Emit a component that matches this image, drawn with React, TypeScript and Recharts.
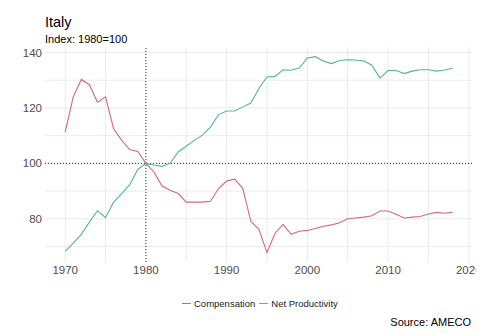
import { CartesianGrid, Line, LineChart, ReferenceLine, XAxis, YAxis } from "recharts";

document.body.style.margin = "0";

const years = [
  1970, 1971, 1972, 1973, 1974, 1975, 1976, 1977, 1978, 1979, 1980, 1981, 1982, 1983, 1984, 1985, 1986,
  1987, 1988, 1989, 1990, 1991, 1992, 1993, 1994, 1995, 1996, 1997, 1998, 1999, 2000, 2001, 2002, 2003,
  2004, 2005, 2006, 2007, 2008, 2009, 2010, 2011, 2012, 2013, 2014, 2015, 2016, 2017, 2018,
];

const compensation = [
  111.3, 124, 130.3, 128.4, 122.1, 124, 112.5, 108.3, 105, 104.3, 100, 96.9, 91.8, 90.3, 89.1, 86, 86,
  86, 86.3, 90.9, 93.6, 94.3, 91, 79.1, 76.2, 67.8, 74.8, 77.9, 74.4, 75.5, 75.8, 76.5, 77.3, 77.8,
  78.6, 80, 80.3, 80.6, 81.1, 82.8, 82.8, 81.6, 80.3, 80.6, 80.8, 81.7, 82.3, 82, 82.3,
];

const productivity = [
  68.2, 71.2, 74.4, 78.8, 82.9, 80.4, 86, 89.1, 92.3, 97.8, 100, 99.4, 98.9, 100, 104.1, 106.2, 108.3,
  110.2, 113.1, 117.6, 118.9, 118.9, 120.3, 121.8, 127, 131.2, 131.4, 133.8, 133.6, 134.4, 138, 138.5,
  136.9, 136, 137.1, 137.4, 137.3, 136.9, 135.4, 130.8, 133.5, 133.5, 132.4, 133.3, 133.8, 133.8, 133.3,
  133.7, 134.3,
];

const xTicks = [1970, 1980, 1990, 2000, 2010, 2020];
const yTicks = [80, 100, 120, 140];
const xGrid = [1970, 1975, 1980, 1985, 1990, 1995, 2000, 2005, 2010, 2015, 2020];
const yGrid = [70, 80, 90, 100, 110, 120, 130, 140];

const data = years.map((year, i) => ({
  year,
  compensation: compensation[i],
  productivity: productivity[i],
}));

const RED = "#d3697b";
const TEAL = "#52b59d";
const font = "'Liberation Sans', Arial, sans-serif";

export default function App() {
  return (
    <div style={{ position: "relative", width: 500, height: 334, background: "#fff", fontFamily: font }}>
      <div style={{ position: "absolute", left: 45, top: 14, fontSize: 14.5, color: "#000" }}>Italy</div>
      <div style={{ position: "absolute", left: 45, top: 33, fontSize: 11, color: "#000" }}>Index: 1980=100</div>
      <LineChart width={500} height={334} data={data} margin={{ top: 47, right: 28, left: 0, bottom: 52 }}>
        <CartesianGrid stroke="#ebebeb" strokeWidth={1} horizontalValues={yGrid} verticalValues={xGrid} />
        <XAxis
          dataKey="year"
          type="number"
          domain={[1967.5, 2020.4]}
          ticks={xTicks}
          axisLine={false}
          tickLine={false}
          tickSize={0}
          tickMargin={4}
          height={20}
          tick={{ fill: "#4d4d4d", fontSize: 11.5, fontFamily: font }}
        />
        <YAxis
          type="number"
          domain={[64.4, 142]}
          ticks={yTicks}
          axisLine={false}
          tickLine={false}
          tickSize={0}
          tickMargin={3}
          width={45}
          tick={{ fill: "#4d4d4d", fontSize: 11.5, fontFamily: font }}
        />
        <ReferenceLine y={100} stroke="#333" strokeDasharray="1 2" />
        <ReferenceLine x={1980} stroke="#333" strokeDasharray="1 2" />
        <Line dataKey="compensation" stroke={RED} strokeWidth={1.1} dot={false} isAnimationActive={false} />
        <Line dataKey="productivity" stroke={TEAL} strokeWidth={1.1} dot={false} isAnimationActive={false} />
      </LineChart>
      <div style={{ position: "absolute", left: 475.5, top: 263, width: 25, height: 16, background: "#fff" }} />
      <div
        style={{
          position: "absolute",
          left: 182,
          top: 298,
          display: "flex",
          alignItems: "center",
          fontSize: 9.5,
          color: "#1a1a1a",
          whiteSpace: "nowrap",
        }}
      >
        <span style={{ display: "inline-block", width: 9, height: 1.5, background: RED, marginRight: 3 }} />
        <span style={{ marginRight: 4 }}>Compensation</span>
        <span style={{ display: "inline-block", width: 9, height: 1.5, background: TEAL, marginRight: 3 }} />
        <span>Net Productivity</span>
      </div>
      <div style={{ position: "absolute", right: 29, top: 316, fontSize: 11, color: "#000" }}>Source: AMECO</div>
    </div>
  );
}
